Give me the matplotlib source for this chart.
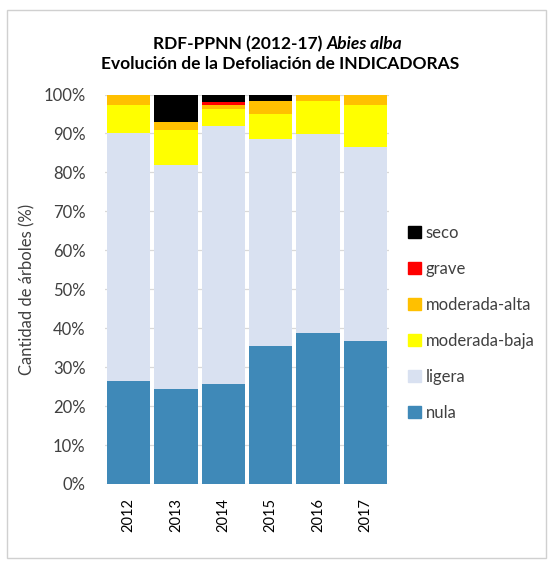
import matplotlib
matplotlib.use("Agg")
import matplotlib.pyplot as plt
import matplotlib.patches as mpatches
from matplotlib.ticker import PercentFormatter
import numpy as np

plt.rcParams['font.family'] = ['Lato', 'DejaVu Sans']

# datos (% de árboles por clase de defoliación)
anios = ['2012', '2013', '2014', '2015', '2016', '2017']
nula = [26.4, 24.3, 25.6, 35.4, 38.8, 36.6]
ligera = [63.6, 57.5, 66.3, 53.1, 51.0, 49.8]
moderada_baja = [7.4, 9.0, 4.4, 6.6, 8.5, 11.0]
moderada_alta = [2.6, 2.1, 0.9, 3.2, 1.7, 2.6]
grave = [0.0, 0.0, 1.0, 0.0, 0.0, 0.0]
seco = [0.0, 7.1, 1.8, 1.7, 0.0, 0.0]

series = [
    ('nula', nula, '#3F89B8'),
    ('ligera', ligera, '#D9E1F1'),
    ('moderada-baja', moderada_baja, '#FFFF00'),
    ('moderada-alta', moderada_alta, '#FFC000'),
    ('grave', grave, '#FF0000'),
    ('seco', seco, '#000000'),
]

fig = plt.figure(figsize=(5.48, 5.61), dpi=100)
# borde exterior del gráfico
fig.patches.append(mpatches.Rectangle((7 / 548, 3 / 561), 539 / 548, 548 / 561,
                                      transform=fig.transFigure, fill=False,
                                      edgecolor='#D0D0D0', linewidth=1.0))

ax = fig.add_axes([105 / 548, 77 / 561, 284 / 548, 389.5 / 561])

x = np.arange(len(anios))
base = np.zeros(len(anios))
handles = []
for nombre, valores, color in series:
    v = np.array(valores)
    ax.bar(x, v, bottom=base, width=0.91, color=color, zorder=2)
    base += v
    handles.append(mpatches.Patch(color=color, label=nombre))

ax.set_xlim(-0.5, len(anios) - 0.5)
ax.set_ylim(0, 100)
ax.set_yticks(range(0, 101, 10))
ax.yaxis.set_major_formatter(PercentFormatter(decimals=0))
ax.set_xticks(x)
ax.set_xticklabels(anios, rotation=90)
ax.tick_params(axis='y', length=0, labelsize=12, colors='#404040', pad=14)
ax.tick_params(axis='x', length=0, labelsize=10.5, colors='#000000', pad=10)
ax.grid(axis='y', color='#D9D9D9', linewidth=0.9, zorder=0)
for s in ax.spines.values():
    s.set_visible(False)

ax.set_ylabel('Cantidad de árboles (%)', fontsize=12, color='#404040', labelpad=6)

# título: primera línea con el nombre científico en cursiva
t1 = fig.text(153 / 548, 1 - 44 / 561, 'RDF-PPNN (2012-17) ', fontsize=12.5,
              fontweight='bold', ha='left', va='center')
ax.annotate('Abies alba', xy=(1, 0.5), xycoords=t1, fontsize=12.5, fontweight='bold',
            fontstyle='italic', ha='left', va='center', annotation_clip=False)
fig.text(280 / 548, 1 - 64 / 561, 'Evolución de la Defoliación de INDICADORAS', fontsize=12.5,
         fontweight='bold', ha='center', va='center')

leg = fig.legend(handles=handles[::-1], loc='upper left', bbox_to_anchor=(393 / 548, 1 - 210 / 561),
                 frameon=False, fontsize=12, handlelength=0.75, handleheight=0.75,
                 handletextpad=0.3, labelspacing=1.2)
for t in leg.get_texts():
    t.set_color('#404040')

fig.savefig('out.png', dpi=100)
